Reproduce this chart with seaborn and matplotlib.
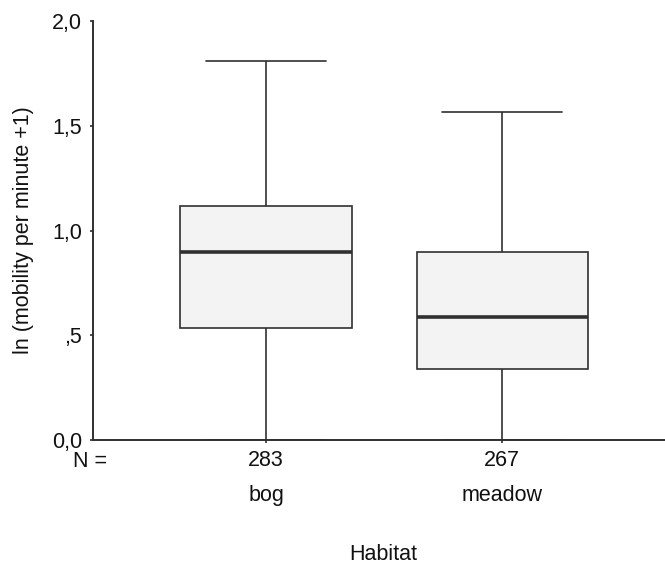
import numpy as np
import pandas as pd
import seaborn as sns
import matplotlib.pyplot as plt

# five-number summaries (whisker min, Q1, median, Q3, whisker max)
habitats = ["bog", "meadow"]
counts = [283, 267]
bog_vals = [0.0, 0.535, 0.897, 1.117, 1.81]
meadow_vals = [0.0, 0.339, 0.587, 0.897, 1.566]
yticks = [0.0, 0.5, 1.0, 1.5, 2.0]
ytick_labels = ["0,0", ",5", "1,0", "1,5", "2,0"]

df = pd.DataFrame({
    "Habitat": ["bog"] * len(bog_vals) + ["meadow"] * len(meadow_vals),
    "value": bog_vals + meadow_vals,
})

sns.set_style("ticks")
plt.rcParams["font.family"] = ["Liberation Sans", "DejaVu Sans"]
fs = 15.5
ink = "#303030"

fig = plt.figure(figsize=(6.65, 5.66), dpi=100)
ax = fig.add_axes([0.1398, 0.2226, 0.8602, 0.7403])

kw = dict(data=df, x="Habitat", y="value", order=habitats, whis=(0, 100),
          width=0.725, color="#f3f3f3", linecolor=ink, linewidth=1.2,
          medianprops=dict(linewidth=2.6, color=ink), ax=ax)
try:
    sns.boxplot(capwidths=0.51, **kw)
except TypeError:
    sns.boxplot(**kw)

ax.set_xlim(-0.733, 1.69)
ax.set_ylim(0, 2.0)
ax.set_yticks(yticks)
ax.set_yticklabels(ytick_labels, fontsize=fs, color="#111111")
ax.set_xticks(range(len(habitats)))
ax.set_xticklabels([str(c) for c in counts], fontsize=fs, color="#111111")
ax.tick_params(axis="y", length=2, width=1.2, pad=6, color=ink)
ax.tick_params(axis="x", length=2, width=1.2, pad=5, color=ink)

for s in ["top", "right"]:
    ax.spines[s].set_visible(False)
for s in ["left", "bottom"]:
    ax.spines[s].set_linewidth(1.4)
    ax.spines[s].set_color(ink)

for i, name in enumerate(habitats):
    ax.text(i, -0.1456, name, transform=ax.get_xaxis_transform(),
            ha="center", va="baseline", fontsize=fs, color="#111111")
ax.text(-0.005, -0.0644, "N =", transform=ax.transAxes,
        ha="center", va="baseline", fontsize=fs, color="#111111")

ax.set_ylabel("ln (mobility per minute +1)", fontsize=fs, color="#111111")
ax.yaxis.set_label_coords(-0.103, 0.5)
ax.set_xlabel("Habitat", fontsize=fs, color="#111111")
ax.xaxis.set_label_coords(0.507, -0.247)

fig.savefig("out.png", dpi=100)
